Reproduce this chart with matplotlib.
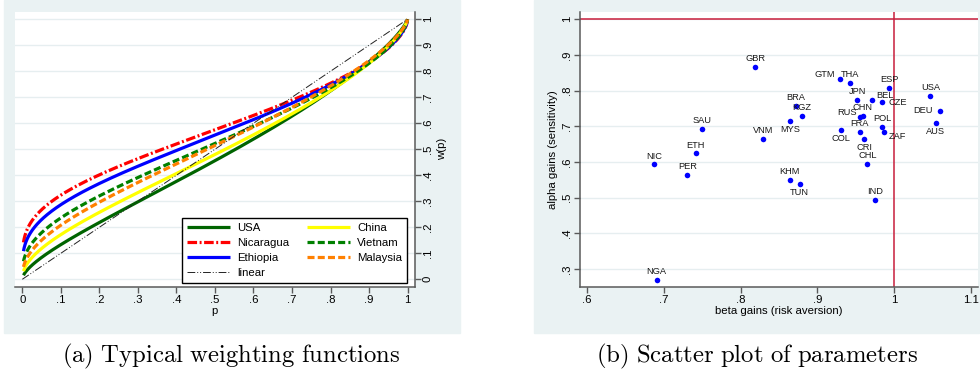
import numpy as np
import matplotlib
matplotlib.use("Agg")
import matplotlib.pyplot as plt
from matplotlib.patches import Rectangle

plt.rcParams['font.family'] = ['Liberation Sans', 'DejaVu Sans']
plt.rcParams['mathtext.fontset'] = 'cm'

# Estimated Prelec parameters for gains, by country
countries = ['GBR', 'GTM', 'THA', 'ESP', 'USA', 'JPN', 'BEL', 'CZE', 'DEU', 'BRA',
             'KGZ', 'RUS', 'CHN', 'MYS', 'SAU', 'VNM', 'COL', 'FRA', 'POL', 'ZAF',
             'CRI', 'AUS', 'ETH', 'NIC', 'CHL', 'PER', 'KHM', 'TUN', 'IND', 'NGA']
beta_gains = [0.819, 0.929, 0.942, 0.993, 1.047, 0.952, 0.971, 0.984, 1.059, 0.872,
              0.880, 0.956, 0.959, 0.865, 0.750, 0.829, 0.931, 0.955, 0.984, 0.987,
              0.961, 1.054, 0.742, 0.688, 0.965, 0.731, 0.864, 0.877, 0.975, 0.691]
alpha_gains = [0.866, 0.834, 0.822, 0.808, 0.785, 0.773, 0.775, 0.768, 0.744, 0.758,
               0.730, 0.726, 0.729, 0.715, 0.693, 0.665, 0.690, 0.685, 0.699, 0.684,
               0.665, 0.708, 0.624, 0.593, 0.594, 0.563, 0.549, 0.538, 0.494, 0.269]

# Weighting functions shown in panel (a)
curve_codes = ['USA', 'NIC', 'ETH', 'CHN', 'VNM', 'MYS']
curve_names = ['USA', 'Nicaragua', 'Ethiopia', 'China', 'Vietnam', 'Malaysia']

x_ticks_a = [0, .1, .2, .3, .4, .5, .6, .7, .8, .9, 1]
tick_labels_a = ['0', '.1', '.2', '.3', '.4', '.5', '.6', '.7', '.8', '.9', '1']
x_ticks_b = [.6, .7, .8, .9, 1, 1.1]
x_labels_b = ['.6', '.7', '.8', '.9', '1', '1.1']
y_ticks_b = [.3, .4, .5, .6, .7, .8, .9, 1]
y_labels_b = ['.3', '.4', '.5', '.6', '.7', '.8', '.9', '1']

# styling
BG = '#EAF2F3'
GRID = '#E6EEF0'
AXC = '#5A5A5A'
curve_styles = {
    'USA': dict(color='#006400', ls='-'),
    'NIC': dict(color='#FF0000', ls=(0, (3, 0.8, 0.6, 0.8))),
    'ETH': dict(color='#0000FF', ls='-'),
    'CHN': dict(color='#FFFF00', ls='-'),
    'VNM': dict(color='#008000', ls=(0, (2.2, 1.0))),
    'MYS': dict(color='#FF8000', ls=(0, (2.2, 1.0))),
}
# label placement as clock positions around each marker
label_pos = {'GTM': 11, 'RUS': 11, 'BEL': 1, 'CZE': 3, 'ZAF': 4, 'DEU': 9,
             'MYS': 6, 'COL': 6, 'CRI': 6, 'AUS': 6, 'TUN': 6}

W, H = 980, 378
fig = plt.figure(figsize=(W / 100, H / 100), dpi=100, facecolor='white')


def fx(px):
    return px / W


def fy(py):
    return 1 - py / H


# panel backgrounds
fig.patches.append(Rectangle((fx(4), fy(333)), fx(460 - 4), (333) / H,
                             transform=fig.transFigure, color=BG, zorder=-5))
fig.patches.append(Rectangle((fx(534), fy(333)), fx(979 - 534), (333) / H,
                             transform=fig.transFigure, color=BG, zorder=-5))

FS = 8.2

# ---------------- panel (a) ----------------
ax1 = fig.add_axes([fx(15), fy(286.7), fx(414.5 - 15), (286.7 - 11.7) / H])
ax1.set_facecolor('white')
ax1.set_xlim(-0.019, 1.018)
ax1.set_ylim(-0.0285, 1.029)
for s in ['top', 'left']:
    ax1.spines[s].set_visible(False)
for s in ['bottom', 'right']:
    ax1.spines[s].set_color(AXC)
    ax1.spines[s].set_linewidth(1.1)
ax1.yaxis.tick_right()
ax1.yaxis.set_label_position('right')
ax1.set_xticks(x_ticks_a)
ax1.set_xticklabels(tick_labels_a)
ax1.set_yticks(x_ticks_a)
ax1.set_yticklabels(tick_labels_a, rotation=90, va='center')
ax1.tick_params(axis='both', length=4, width=1, color=AXC, labelsize=FS, pad=2)
ax1.grid(axis='y', color=GRID, lw=1.0)
ax1.set_axisbelow(True)
ax1.set_xlabel('p', fontsize=FS, labelpad=1)
ax1.set_ylabel('w(p)', fontsize=FS, labelpad=3, rotation=90)

p = np.concatenate([np.geomspace(0.003, 0.05, 80), np.linspace(0.0505, 1.0, 400)])
handles = {}
for code, name in zip(curve_codes, curve_names):
    i = countries.index(code)
    a, b = alpha_gains[i], beta_gains[i]
    w = np.exp(-b * (-np.log(p)) ** a)
    st = curve_styles[code]
    h, = ax1.plot(p, w, color=st['color'], ls=st['ls'], lw=2.3, label=name,
                  solid_capstyle='butt', dash_capstyle='butt', zorder=2)
    handles[code] = h
hl, = ax1.plot([0, 1], [0, 1], color='#222222', lw=0.7,
               ls=(0, (8, 2, 1, 2, 1, 2)), label='linear', zorder=3)

order = [handles['USA'], handles['NIC'], handles['ETH'], hl,
         handles['CHN'], handles['VNM'], handles['MYS']]
leg = ax1.legend(handles=order, ncol=2, loc='lower left',
                 bbox_to_anchor=(0.417, 0.0145), fontsize=FS, frameon=True,
                 fancybox=False, edgecolor='black', framealpha=1,
                 handlelength=3.8, handletextpad=0.6, columnspacing=1.6,
                 labelspacing=0.42, borderpad=0.45, borderaxespad=0)
leg.get_frame().set_linewidth(1.0)
leg.set_zorder(5)

# ---------------- panel (b) ----------------
ax2 = fig.add_axes([fx(580), fy(286.7), fx(978 - 580), (286.7 - 11.7) / H])
ax2.set_facecolor('white')
ax2.set_xlim(0.5913, 1.1088)
ax2.set_ylim(0.2504, 1.0213)
for s in ['top', 'right']:
    ax2.spines[s].set_visible(False)
for s in ['bottom', 'left']:
    ax2.spines[s].set_color(AXC)
    ax2.spines[s].set_linewidth(1.1)
ax2.set_xticks(x_ticks_b)
ax2.set_xticklabels(x_labels_b)
ax2.set_yticks(y_ticks_b)
ax2.set_yticklabels(y_labels_b, rotation=90, va='center')
ax2.tick_params(axis='both', length=4, width=1, color=AXC, labelsize=FS, pad=2)
ax2.grid(axis='y', color=GRID, lw=1.0)
ax2.set_axisbelow(True)
ax2.set_xlabel('beta gains (risk aversion)', fontsize=FS, labelpad=1)
ax2.set_ylabel('alpha gains (sensitivity)', fontsize=FS, labelpad=3)

ax2.axhline(1, color='#C81E3C', lw=1.1, zorder=2)
ax2.axvline(1, color='#C81E3C', lw=1.1, zorder=2)
ax2.scatter(beta_gains, alpha_gains, s=16, color='#0000FF', zorder=3, linewidths=0)

clock = {12: (0, 1), 11: (-0.87, 0.5), 1: (0.87, 0.5), 3: (1, 0), 9: (-1, 0),
         6: (0, -1), 4: (0.87, -0.5), 5: (0.5, -0.87), 7: (-0.5, -0.87)}
R = 6.0
for code, xv, yv in zip(countries, beta_gains, alpha_gains):
    pos = label_pos.get(code, 12)
    dx, dy = clock[pos]
    ha = 'center' if abs(dx) < 0.3 else ('left' if dx > 0 else 'right')
    ox = dx * (3.5 if ha != 'center' else 0)
    oy = dy * R
    if pos in (3, 9):
        ox = dx * 5
    ax2.annotate(code, (xv, yv), xytext=(ox, oy), textcoords='offset points',
                 ha=ha, va='center', fontsize=6.7, color='#1A1A1A', zorder=4)

# captions
fig.text(fx(231), fy(356), r'$\mathrm{(a)\ Typical\ weighting\ functions}$',
         ha='center', va='center', fontsize=17.8)
fig.text(fx(757), fy(356), r'$\mathrm{(b)\ Scatter\ plot\ of\ parameters}$',
         ha='center', va='center', fontsize=17.8)

fig.savefig('out.png', dpi=100, facecolor='white')
